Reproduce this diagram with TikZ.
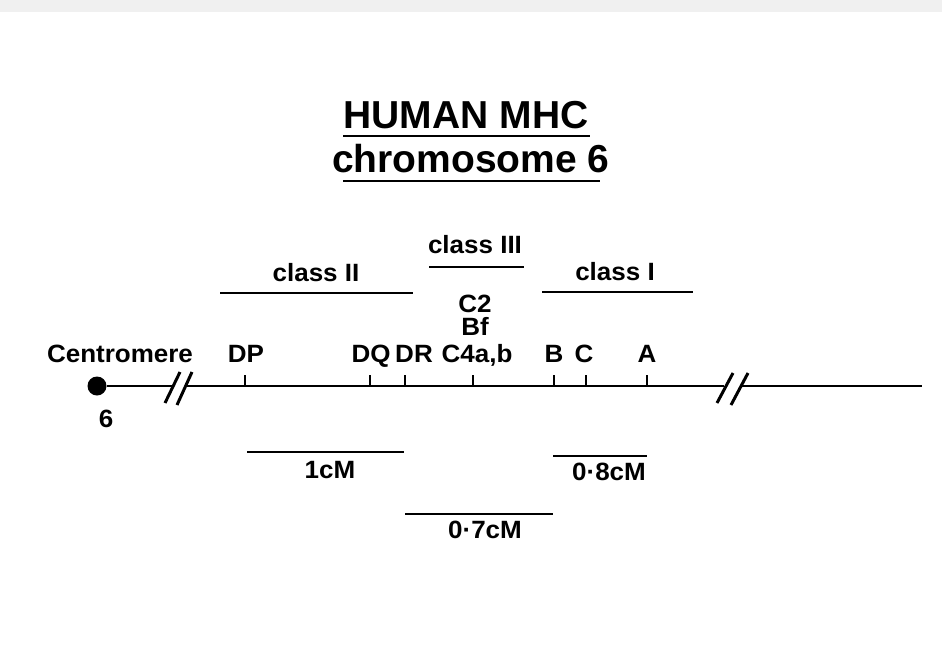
\documentclass[tikz,border=0pt]{standalone}
\usepackage{fontspec}
\setmainfont{Liberation Sans}
\newfontfamily\labfont{Liberation Sans}[FakeStretch=1.04]
\begin{document}
\begin{tikzpicture}[x=1pt,y=-1pt,
  lab/.style={font=\labfont\bfseries\fontsize{25}{30}\selectfont, inner sep=0pt, anchor=base},
  ttl/.style={font=\bfseries\fontsize{39}{44}\selectfont, inner sep=0pt, anchor=base},
  bar/.style={line width=2.4pt},
  chrom/.style={line width=2pt},
  tickmark/.style={line width=1.8pt},
  brk/.style={line width=3pt}]
\useasboundingbox (0,0) rectangle (942,651);
\fill[black!6] (0,0) rectangle (942,12);

% title
\node[ttl] (t1) at (466,128) {HUMAN MHC};
\node[ttl] (t2) at (471,172) {chromosome 6};
\coordinate (u1a) at (343,136); \coordinate (u1b) at (590,136);
\coordinate (u2a) at (343,181); \coordinate (u2b) at (600,181);
\draw[bar] (u1a) -- (u1b);
\draw[bar] (u2a) -- (u2b);

% class labels and bars
\node[lab] (c2) at (316,281) {class II};
\node[lab] (c3) at (475,253) {class III};
\node[lab] (c1) at (615,280) {class I};
\coordinate (c2a) at (220,293); \coordinate (c2b) at (413,293);
\coordinate (c3a) at (429,267); \coordinate (c3b) at (524,267);
\coordinate (c1a) at (542,292); \coordinate (c1b) at (693,292);
\draw[bar] (c2a) -- (c2b);
\draw[bar] (c3a) -- (c3b);
\draw[bar] (c1a) -- (c1b);

% chromosome
\node[circle, fill, inner sep=0pt, minimum size=19pt] (cen) at (97,386) {};
\coordinate (b1a) at (172,386); \coordinate (b1b) at (185,386);
\coordinate (b2a) at (724,386); \coordinate (b2b) at (741,386);
\coordinate (endp) at (922,386);
\draw[chrom] (cen) -- (b1a);
\draw[chrom] (b1b) -- (b2a);
\draw[chrom] (b2b) -- (endp);
\coordinate (s1a) at (165,403); \coordinate (s1b) at (180,372);
\coordinate (s2a) at (177,405); \coordinate (s2b) at (192,372);
\coordinate (s3a) at (717,403); \coordinate (s3b) at (733,373);
\coordinate (s4a) at (731,405); \coordinate (s4b) at (748,373);
\draw[brk] (s1a) -- (s1b);
\draw[brk] (s2a) -- (s2b);
\draw[brk] (s3a) -- (s3b);
\draw[brk] (s4a) -- (s4b);

% ticks
\foreach \n/\x in {DP/245, DQ/370, DR/405, CF/473, B/554, C/586, A/647}{
  \coordinate (t\n) at (\x,386);
  \coordinate (h\n) at (\x,375);
  \draw[tickmark] (t\n) -- (h\n);
}

% locus labels
\node[lab] (lcen) at (120,362) {Centromere};
\node[lab] (lsix) at (106,427) {6};
\node[lab] (lDP) at (246,362) {DP};
\node[lab] (lDQ) at (371,362) {DQ};
\node[lab] (lDR) at (414,362) {DR};
\node[lab] (lC4) at (477,362) {C4a,b};
\node[lab] (lBf) at (475,335) {Bf};
\node[lab] (lC2) at (475,312) {C2};
\node[lab] (lB) at (554,362) {B};
\node[lab] (lC) at (584,362) {C};
\node[lab] (lA) at (647,362) {A};

% scale bars
\coordinate (m1a) at (247,452); \coordinate (m1b) at (404,452);
\coordinate (m2a) at (553,456); \coordinate (m2b) at (647,456);
\coordinate (m3a) at (405,514); \coordinate (m3b) at (553,514);
\draw[bar] (m1a) -- (m1b);
\draw[bar] (m2a) -- (m2b);
\draw[bar] (m3a) -- (m3b);
\node[lab] (d1) at (330,478) {1cM};
\node[lab] (d2) at (609,480) {0·8cM};
\node[lab] (d3) at (485,538) {0·7cM};
\end{tikzpicture}
\end{document}
